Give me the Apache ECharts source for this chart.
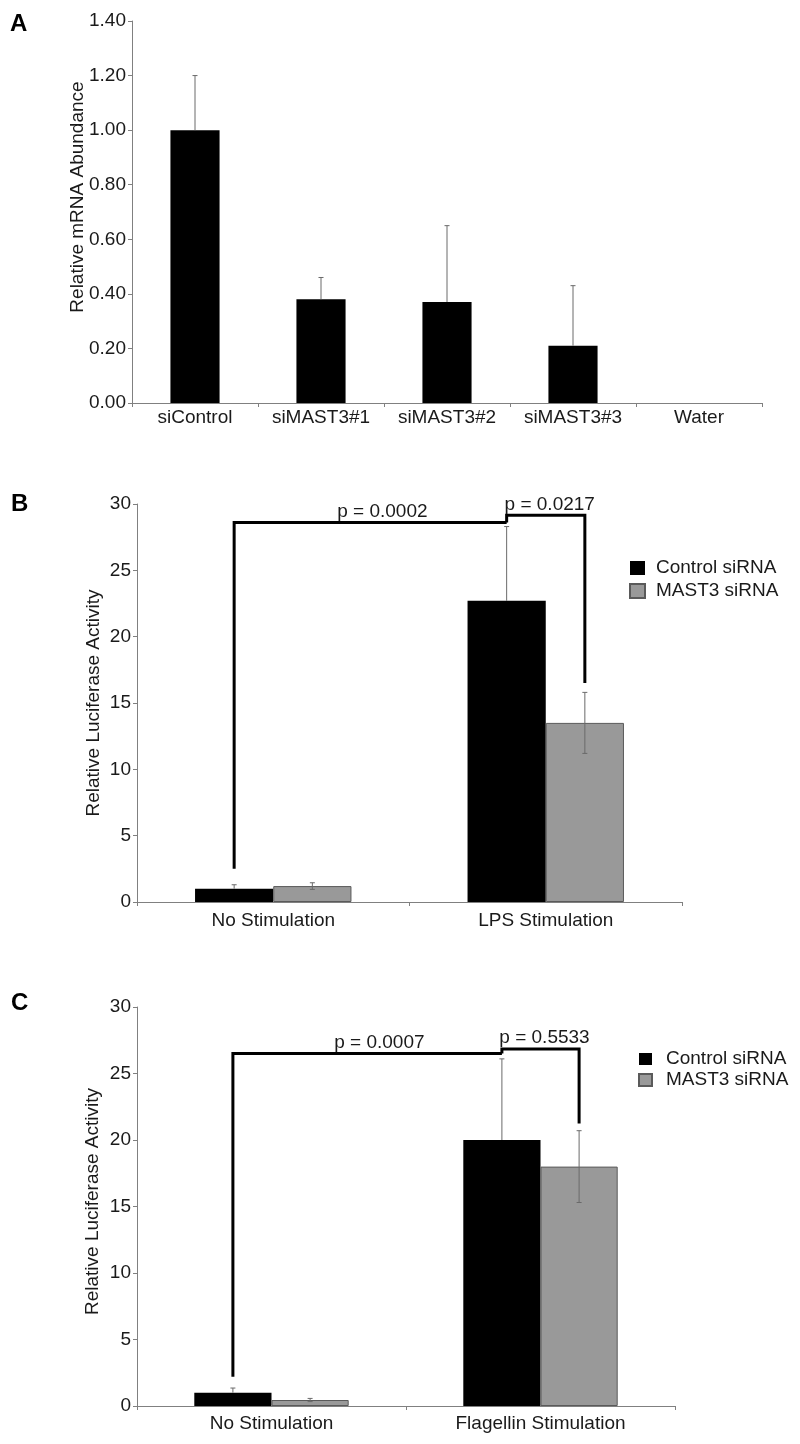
<!DOCTYPE html>
<html>
<head>
<meta charset="utf-8">
<script src="https://cdn.jsdelivr.net/npm/echarts@6/dist/echarts.min.js"></script>
<style>
html,body{margin:0;padding:0;background:#fff;}
#chart{width:800px;height:1444px;}
</style>
</head>
<body>
<div id="chart"></div>
<script>
// ---------- DATA ----------
// Panel A
const catsA = ['siControl', 'siMAST3#1', 'siMAST3#2', 'siMAST3#3', 'Water'];
const valsA = [1.00, 0.38, 0.37, 0.21, 0];
const errA  = [0.20, 0.08, 0.28, 0.22, null];
const yTitleA = 'Relative mRNA Abundance';

// Panel B
const catsB = ['No Stimulation', 'LPS Stimulation'];
const controlB = [1.0, 22.7];
const controlErrB = [0.3, 5.6];
const mast3B = [1.2, 13.5];
const mast3ErrB = [0.25, 2.3];
const pLabelsB = ['p = 0.0002', 'p = 0.0217'];
// [fromCat, fromSeries, toCat, toSeries, yLeftEnd, yTop, yRightEnd]
const bracketsB = [
  [0, 0, 1, 0, 2.5, 28.6, 28.6],
  [1, 0, 1, 1, 28.6, 29.15, 16.5]
];

// Panel C
const catsC = ['No Stimulation', 'Flagellin Stimulation'];
const controlC = [1.0, 20.0];
const controlErrC = [0.35, 6.1];
const mast3C = [0.45, 18.0];
const mast3ErrC = [0.12, 2.7];
const pLabelsC = ['p = 0.0007', 'p = 0.5533'];
const bracketsC = [
  [0, 0, 1, 0, 2.2, 26.5, 26.5],
  [1, 0, 1, 1, 26.5, 26.85, 21.25]
];

const seriesNames = ['Control siRNA', 'MAST3 siRNA'];
const yTitleBC = 'Relative Luciferase Activity';

// ---------- STYLE ----------
const FONT = "'Liberation Sans', Arial, Helvetica, sans-serif";
const TXT = '#1a1a1a';
const AXIS = '#808080';
const ERR = '#6a6a6a';
const BAR_FRAC = 0.287;        // bar width as fraction of category band (B, C)
const labelDx = [12, 4];       // horizontal nudge of p labels

const chart = echarts.init(document.getElementById('chart'), null, {renderer: 'canvas'});

function xAxisCfg(gridIndex, cats, margin) {
  return {
    type: 'category', gridIndex: gridIndex, data: cats,
    axisLine: {lineStyle: {color: AXIS, width: 1}},
    axisTick: {show: true, length: 4, lineStyle: {color: AXIS}},
    axisLabel: {color: TXT, fontSize: 19, fontFamily: FONT, margin: margin, interval: 0}
  };
}
function yAxisCfg(gridIndex, max, interval, fmt, name, nameGap, namePad) {
  return {
    type: 'value', gridIndex: gridIndex, min: 0, max: max, interval: interval,
    name: name, nameLocation: 'middle', nameGap: nameGap, nameMoveOverlap: false,
    nameTextStyle: {color: TXT, fontSize: 19, fontFamily: FONT, padding: namePad},
    axisLine: {show: true, lineStyle: {color: AXIS, width: 1}},
    axisTick: {show: true, length: 4, lineStyle: {color: AXIS}},
    splitLine: {show: false},
    axisLabel: {color: TXT, fontSize: 19, fontFamily: FONT, margin: 6, formatter: fmt}
  };
}

function errSeries(idx, cats, vals, errs, sideIdx, nSeries, barFrac, both) {
  return {
    type: 'custom', xAxisIndex: idx, yAxisIndex: idx, z: 5,
    encode: {x: 0, y: 1},
    data: vals.map((v, i) => [i, v, errs[i] == null ? NaN : errs[i]]),
    renderItem: function (params, api) {
      const e = api.value(2);
      if (isNaN(e)) return null;
      const cat = api.value(0), v = api.value(1);
      const band = api.size([1, 0])[0];
      const off = nSeries === 1 ? 0 : (sideIdx - 0.5) * barFrac * band;
      const x = api.coord([cat, v])[0] + off;
      const yTop = api.coord([cat, v + e])[1];
      const yMid = api.coord([cat, v])[1];
      const yBot = api.coord([cat, v - e])[1];
      const st = {stroke: ERR, lineWidth: 1};
      const kids = [
        {type: 'line', shape: {x1: x, y1: yTop, x2: x, y2: both ? yBot : yMid}, style: st},
        {type: 'line', shape: {x1: x - 2.5, y1: yTop, x2: x + 2.5, y2: yTop}, style: st}
      ];
      if (both) kids.push({type: 'line', shape: {x1: x - 2.5, y1: yBot, x2: x + 2.5, y2: yBot}, style: st});
      return {type: 'group', children: kids};
    }
  };
}

function bracketSeries(idx, brackets, labels) {
  return {
    type: 'custom', xAxisIndex: idx, yAxisIndex: idx, z: 10,
    encode: {x: 0, y: 5},
    data: brackets,
    renderItem: function (params, api) {
      const band = api.size([1, 0])[0];
      const fc = api.value(0), fs = api.value(1), tc = api.value(2), ts = api.value(3);
      const yl = api.value(4), yt = api.value(5), yr = api.value(6);
      const x1 = api.coord([fc, yt])[0] + (fs - 0.5) * BAR_FRAC * band;
      const x2 = api.coord([tc, yt])[0] + (ts - 0.5) * BAR_FRAC * band;
      const pL = api.coord([fc, yl])[1];
      const pT = api.coord([fc, yt])[1];
      const pR = api.coord([tc, yr])[1];
      const st = {stroke: '#000', lineWidth: 3, fill: null, lineJoin: 'miter'};
      return {
        type: 'group',
        children: [
          {type: 'polyline', shape: {points: [[x1, pL], [x1, pT], [x2, pT], [x2, pR]]}, style: st},
          {type: 'text', style: {
            text: labels[params.dataIndex],
            x: (x1 + x2) / 2 + labelDx[params.dataIndex], y: pT - 11,
            align: 'center', verticalAlign: 'middle',
            font: '19px ' + FONT, fill: TXT
          }}
        ]
      };
    }
  };
}

function barPair(idx, ctrl, mast) {
  return [
    {name: seriesNames[0], type: 'bar', xAxisIndex: idx, yAxisIndex: idx, data: ctrl,
     barWidth: (BAR_FRAC * 100) + '%', barGap: '0%',
     itemStyle: {color: '#000000', borderColor: '#000000', borderWidth: 0}},
    {name: seriesNames[1], type: 'bar', xAxisIndex: idx, yAxisIndex: idx, data: mast,
     barWidth: (BAR_FRAC * 100) + '%', barGap: '0%',
     itemStyle: {color: '#999999', borderColor: '#5a5a5a', borderWidth: 1}}
  ];
}

function legendCfg(left, top, iw, ih, gap, textPad) {
  return {
    left: left, top: top, orient: 'vertical', data: seriesNames, padding: 0,
    itemWidth: iw, itemHeight: ih, itemGap: gap, icon: 'rect',
    selectedMode: false,
    textStyle: {color: TXT, fontSize: 19, fontFamily: FONT, lineHeight: 20, padding: [0, 0, 0, textPad]}
  };
}

const option = {
  backgroundColor: '#ffffff',
  animation: false,
  textStyle: {fontFamily: FONT},
  grid: [
    {left: 132, top: 21, width: 630, height: 382},
    {left: 137, top: 504, width: 545, height: 398},
    {left: 137, top: 1007, width: 538, height: 399}
  ],
  xAxis: [
    xAxisCfg(0, catsA, 5),
    xAxisCfg(1, catsB, 9),
    xAxisCfg(2, catsC, 8)
  ],
  yAxis: [
    yAxisCfg(0, 1.4, 0.2, v => v.toFixed(2), yTitleA, 45, [0, 0, 0, 30]),
    yAxisCfg(1, 30, 5, null, yTitleBC, 34, 0),
    yAxisCfg(2, 30, 5, null, yTitleBC, 35, [0, 0, 0, 10])
  ],
  legend: [
    legendCfg(629, 558, 15, 14, 3, 6),
    legendCfg(638, 1049, 13, 12, 1, 9)
  ],
  graphic: [
    {type: 'text', left: 10, top: 12, style: {text: 'A', font: 'bold 24px ' + FONT, fill: '#000'}},
    {type: 'text', left: 11, top: 492, style: {text: 'B', font: 'bold 24px ' + FONT, fill: '#000'}},
    {type: 'text', left: 11, top: 991, style: {text: 'C', font: 'bold 24px ' + FONT, fill: '#000'}}
  ],
  series: [
    {name: 'A', type: 'bar', xAxisIndex: 0, yAxisIndex: 0, data: valsA, barWidth: '39%',
     itemStyle: {color: '#000000'}},
    errSeries(0, catsA, valsA, errA, 0, 1, 0, false),

    ...barPair(1, controlB, mast3B),
    errSeries(1, catsB, controlB, controlErrB, 0, 2, BAR_FRAC, false),
    errSeries(1, catsB, mast3B, mast3ErrB, 1, 2, BAR_FRAC, true),
    bracketSeries(1, bracketsB, pLabelsB),

    ...barPair(2, controlC, mast3C),
    errSeries(2, catsC, controlC, controlErrC, 0, 2, BAR_FRAC, false),
    errSeries(2, catsC, mast3C, mast3ErrC, 1, 2, BAR_FRAC, true),
    bracketSeries(2, bracketsC, pLabelsC)
  ]
};
chart.setOption(option);
</script>
</body>
</html>
